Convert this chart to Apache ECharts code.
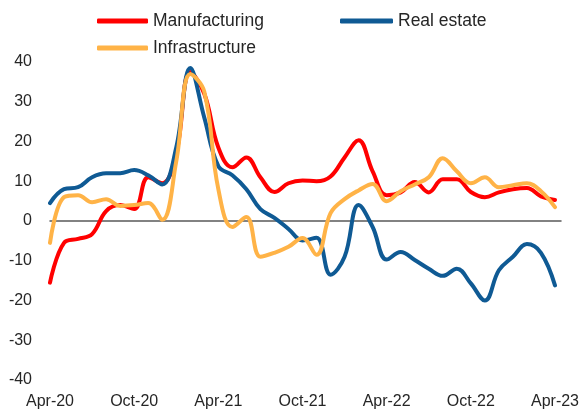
<!DOCTYPE html>
<html>
<head>
<meta charset="utf-8">
<script src="https://cdn.jsdelivr.net/npm/echarts@6/dist/echarts.min.js"></script>
<style>
  html, body { margin: 0; padding: 0; background: #fff; }
  #chart { width: 582px; height: 412px; }
</style>
</head>
<body>
<div id="chart"></div>
<script>
// monthly, Apr-20 .. Apr-23
const months = ['Apr-20','May-20','Jun-20','Jul-20','Aug-20','Sep-20','Oct-20','Nov-20','Dec-20',
  'Jan-21','Feb-21','Mar-21','Apr-21','May-21','Jun-21','Jul-21','Aug-21','Sep-21','Oct-21','Nov-21','Dec-21',
  'Jan-22','Feb-22','Mar-22','Apr-22','May-22','Jun-22','Jul-22','Aug-22','Sep-22','Oct-22','Nov-22','Dec-22',
  'Jan-23','Feb-23','Mar-23','Apr-23']
const tickLabels = ['Apr-20', 'Oct-20', 'Apr-21', 'Oct-21', 'Apr-22', 'Oct-22', 'Apr-23']

const manufacturing = [-15.5, -5.5, -4.5, -3.3, 2.5, 4, 3, 11, 9.5,
  17, 37.5, 32, 18.5, 13.5, 16, 11, 7.3, 9.5, 10.2, 10, 11.2,
  16, 20.3, 12.5, 6.5, 7.2, 9.8, 7.2, 10.5, 10.5, 7.3, 6, 7.2,
  8, 8.3, 6.2, 5.3]
const realEstate = [4.5, 8, 8.5, 11, 12, 12, 12.8, 11.5, 9.2,
  18.5, 38.5, 26, 13.8, 11.5, 8, 3, 0.8, -2, -4.9, -4.2, -13.5,
  -9, 4, -1.5, -9.7, -7.8, -9.8, -12, -13.8, -12, -15.7, -20, -12.4,
  -9, -5.8, -8, -16.2]
const infrastructure = [-5.5, 6, 6.5, 4.7, 5.5, 3.8, 4, 4.5, 0.3,
  15, 37, 32.5, 8, -1.5, 1, -9, -8, -6.5, -4.3, -8.5, 2,
  5.5, 7.7, 9.3, 5, 7.5, 9.2, 11, 15.8, 12.5, 9.5, 11, 8.5,
  9, 9.5, 7.5, 3.5]

const font = 'Liberation Sans, Arial, sans-serif'
const textColor = '#262626'

function pairs(arr) {
  return arr.map((v, i) => [i, v])
}

function line(name, data, color) {
  return {
    name: name,
    type: 'line',
    data: pairs(data),
    smooth: 0.4,
    symbol: 'none',
    lineStyle: { color: color, width: 4, cap: 'round', join: 'round' },
    itemStyle: { color: color },
    z: 3
  }
}

const chart = echarts.init(document.getElementById('chart'))
chart.setOption({
  animation: false,
  grid: { left: 50, right: 19, top: 62, bottom: 32 },
  legend: [{
    data: ['Manufacturing', 'Infrastructure'],
    orient: 'vertical',
    left: 97,
    top: 11,
    padding: 0,
    itemGap: 7,
    itemWidth: 51,
    itemHeight: 5,
    icon: 'roundRect',
    textStyle: { fontFamily: font, fontSize: 17.5, color: textColor, lineHeight: 20 }
  }, {
    data: ['Real estate'],
    orient: 'vertical',
    left: 340,
    top: 11,
    padding: 0,
    itemWidth: 53,
    itemHeight: 5,
    icon: 'roundRect',
    textStyle: { fontFamily: font, fontSize: 17.5, color: textColor, lineHeight: 20 }
  }],
  xAxis: [{
    type: 'value',
    min: 0,
    max: 36.43,
    interval: 6,
    position: 'bottom',
    axisLine: { show: false, onZero: false },
    axisTick: { show: false },
    splitLine: { show: false },
    axisLabel: {
      margin: 14,
      fontFamily: font,
      fontSize: 16,
      color: textColor,
      formatter: v => (v % 6 === 0 ? tickLabels[v / 6] : '')
    }
  }, {
    // zero line
    type: 'value',
    min: 0,
    max: 36.43,
    axisLine: { show: true, onZero: true, lineStyle: { color: '#595959', width: 1.5 } },
    axisTick: { show: false },
    axisLabel: { show: false },
    splitLine: { show: false }
  }],
  yAxis: {
    type: 'value',
    min: -40,
    max: 40,
    interval: 10,
    axisLine: { show: false },
    axisTick: { show: false },
    splitLine: { show: false },
    axisLabel: { margin: 18, fontFamily: font, fontSize: 16, color: textColor }
  },
  series: [
    line('Manufacturing', manufacturing, '#FF0000'),
    line('Real estate', realEstate, '#0F5A94'),
    line('Infrastructure', infrastructure, '#FFB347')
  ]
})
</script>
</body>
</html>
